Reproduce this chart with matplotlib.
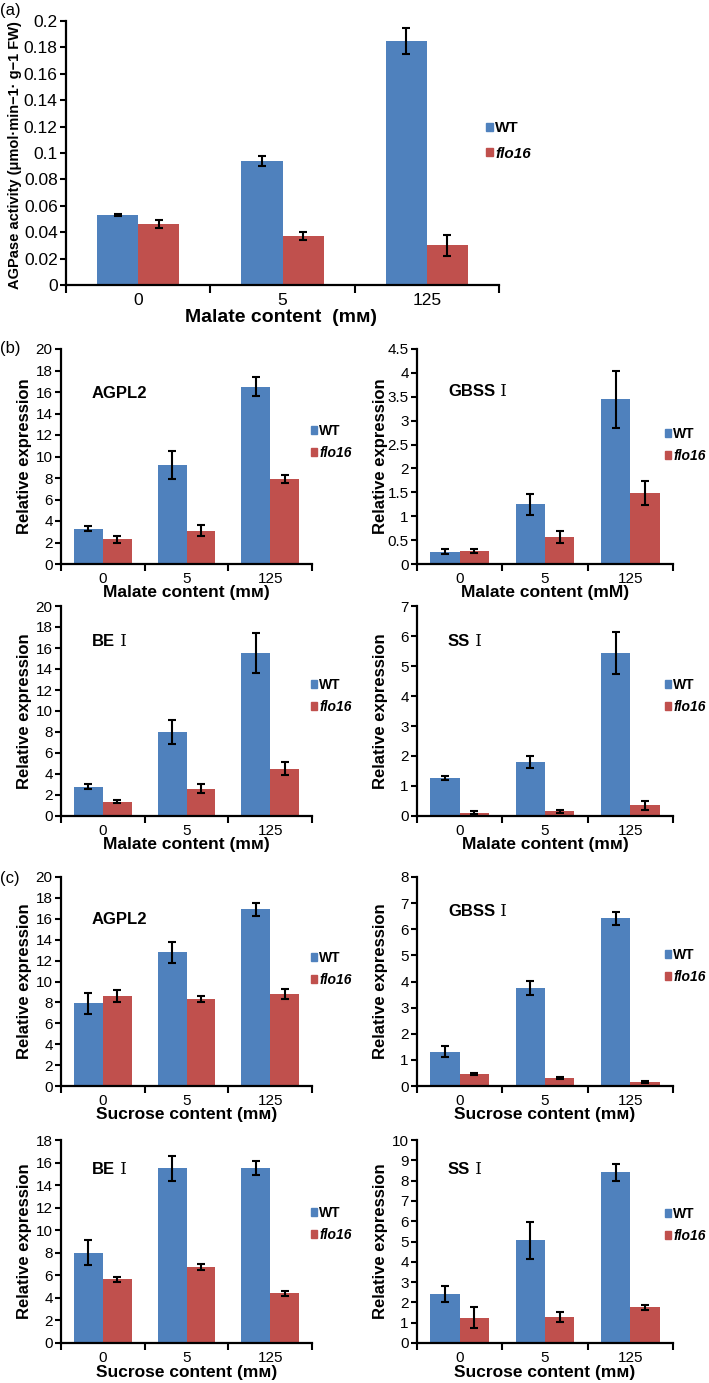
import matplotlib
matplotlib.use('Agg')
import matplotlib.pyplot as plt
from matplotlib.patches import Patch
from matplotlib import ticker
import numpy as np

plt.rcParams['font.family'] = ['Liberation Sans', 'DejaVu Sans']
NARROW = ['Liberation Sans Narrow', 'Liberation Sans', 'DejaVu Sans']

W, H = 709, 1383
BLUE = '#4F81BD'
RED = '#C0504D'

doses = ['0', '5', '125']
series = ['WT', 'flo16']

# (a) AGPase activity vs malate
agp_wt = [0.053, 0.094, 0.185]
agp_wt_err = [0.001, 0.004, 0.010]
agp_flo = [0.046, 0.037, 0.030]
agp_flo_err = [0.003, 0.003, 0.008]

# (b) relative expression vs malate
mal_agpl2_wt = [3.3, 9.2, 16.5]
mal_agpl2_wt_err = [0.2, 1.3, 0.9]
mal_agpl2_flo = [2.3, 3.1, 7.9]
mal_agpl2_flo_err = [0.3, 0.5, 0.4]

mal_gbss_wt = [0.26, 1.25, 3.45]
mal_gbss_wt_err = [0.05, 0.22, 0.6]
mal_gbss_flo = [0.28, 0.56, 1.48]
mal_gbss_flo_err = [0.04, 0.13, 0.25]

mal_be_wt = [2.8, 8.0, 15.5]
mal_be_wt_err = [0.2, 1.1, 1.9]
mal_be_flo = [1.35, 2.6, 4.5]
mal_be_flo_err = [0.15, 0.4, 0.6]

mal_ss_wt = [1.27, 1.8, 5.42]
mal_ss_wt_err = [0.07, 0.2, 0.7]
mal_ss_flo = [0.1, 0.15, 0.35]
mal_ss_flo_err = [0.05, 0.05, 0.15]

# (c) relative expression vs sucrose
suc_agpl2_wt = [7.9, 12.8, 16.9]
suc_agpl2_wt_err = [1.0, 1.0, 0.6]
suc_agpl2_flo = [8.6, 8.3, 8.8]
suc_agpl2_flo_err = [0.55, 0.3, 0.45]

suc_gbss_wt = [1.32, 3.75, 6.42]
suc_gbss_wt_err = [0.2, 0.28, 0.25]
suc_gbss_flo = [0.47, 0.32, 0.17]
suc_gbss_flo_err = [0.03, 0.04, 0.04]

suc_be_wt = [8.0, 15.5, 15.5]
suc_be_wt_err = [1.1, 1.1, 0.6]
suc_be_flo = [5.65, 6.75, 4.4]
suc_be_flo_err = [0.2, 0.25, 0.2]

suc_ss_wt = [2.4, 5.05, 8.4]
suc_ss_wt_err = [0.4, 0.9, 0.4]
suc_ss_flo = [1.25, 1.3, 1.75]
suc_ss_flo_err = [0.5, 0.25, 0.12]

fig = plt.figure(figsize=(W / 100, H / 100), dpi=100)


def px_axes(l, r, t, b):
    return fig.add_axes([l / W, 1 - b / H, (r - l) / W, (b - t) / H])


def fx(x):
    return x / W


def fy(y):
    return 1 - y / H


def bar_panel(ax, wt, wt_err, flo, flo_err, ymax, ystep, width, fs):
    x = np.arange(len(doses))
    ekw = dict(ecolor='black', elinewidth=1.5, capsize=3, capthick=1.5)
    ax.bar(x - width / 2, wt, width, color=BLUE, yerr=wt_err, error_kw=ekw)
    ax.bar(x + width / 2, flo, width, color=RED, yerr=flo_err, error_kw=ekw)
    ax.set_xlim(-0.5, 2.5)
    ax.set_ylim(0, ymax)
    ax.set_yticks(np.arange(0, ymax + ystep / 2, ystep))
    ax.yaxis.set_major_formatter(ticker.FuncFormatter(lambda v, p: '%g' % round(v, 4)))
    ax.set_xticks(x)
    ax.set_xticklabels(doses)
    ax.set_xticks([-0.5, 0.5, 1.5, 2.5], minor=True)
    ax.tick_params(axis='x', which='major', length=0, pad=6, labelsize=fs)
    ax.tick_params(axis='x', which='minor', length=5, width=1.5, direction='out')
    ax.tick_params(axis='y', length=4, width=1.5, direction='out', labelsize=fs, pad=2)
    for s in ['top', 'right']:
        ax.spines[s].set_visible(False)
    for s in ['left', 'bottom']:
        ax.spines[s].set_linewidth(1.6)
    ax.set_facecolor('none')


def add_legend(lx, ly, fs, spacing, family=None):
    handles = [Patch(color=BLUE), Patch(color=RED)]
    prop = dict(weight='bold', size=fs)
    if family:
        prop['family'] = family
    leg = fig.legend(handles, series, loc='center left',
                     bbox_to_anchor=(fx(lx), fy(ly)), frameon=False,
                     handlelength=0.45, handleheight=0.45, handletextpad=0.15,
                     labelspacing=spacing, borderpad=0, borderaxespad=0, prop=prop)
    leg.get_texts()[1].set_style('italic')


def gene_label(ax, gx, gy, name, roman):
    t = fig.text(fx(gx), fy(gy), name, fontsize=12, fontweight='bold',
                 ha='left', va='center')
    if roman:
        ax.annotate(' Ⅰ', xy=(1, 0.5), xycoords=t, ha='left', va='center',
                    fontsize=12, family=['DejaVu Serif', 'Noto Sans CJK SC'])


# panel (a)
ax_a = px_axes(66, 499, 21, 285)
bar_panel(ax_a, agp_wt, agp_wt_err, agp_flo, agp_flo_err, 0.2, 0.02, 0.285, 12.5)
ax_a.tick_params(axis='x', which='minor', length=6)
fig.text(fx(15), fy(155), 'AGPase activity (μmol·min−1· g−1 FW)', rotation=90,
         fontsize=10.5, fontweight='bold', ha='center', va='center')
fig.text(fx(281), fy(318), 'Malate content  (mм)', fontsize=14, fontweight='bold',
         family=NARROW, ha='center', va='center')
add_legend(486, 141, 11, 0.75, NARROW)
fig.text(fx(0), fy(10), '(a)', fontsize=12, ha='left', va='center')

# panels (b) and (c)
LEFT = (61, 312)
RIGHT = (417, 673)
rows = [(349, 564), (606, 816), (877, 1086), (1140, 1343)]

panels = [
    (LEFT, rows[0], mal_agpl2_wt, mal_agpl2_wt_err, mal_agpl2_flo, mal_agpl2_flo_err, 20, 2, 'AGPL2', False, 'Malate content (mм)', 393, 442),
    (RIGHT, rows[0], mal_gbss_wt, mal_gbss_wt_err, mal_gbss_flo, mal_gbss_flo_err, 4.5, 0.5, 'GBSS', True, 'Malate content (mM)', 392, 445),
    (LEFT, rows[1], mal_be_wt, mal_be_wt_err, mal_be_flo, mal_be_flo_err, 20, 2, 'BE', True, 'Malate content (mм)', 642, 696),
    (RIGHT, rows[1], mal_ss_wt, mal_ss_wt_err, mal_ss_flo, mal_ss_flo_err, 7, 1, 'SS', True, 'Malate content (mм)', 642, 696),
    (LEFT, rows[2], suc_agpl2_wt, suc_agpl2_wt_err, suc_agpl2_flo, suc_agpl2_flo_err, 20, 2, 'AGPL2', False, 'Sucrose content (mм)', 919, 969),
    (RIGHT, rows[2], suc_gbss_wt, suc_gbss_wt_err, suc_gbss_flo, suc_gbss_flo_err, 8, 1, 'GBSS', True, 'Sucrose content (mм)', 912, 966),
    (LEFT, rows[3], suc_be_wt, suc_be_wt_err, suc_be_flo, suc_be_flo_err, 18, 2, 'BE', True, 'Sucrose content (mм)', 1169, 1224),
    (RIGHT, rows[3], suc_ss_wt, suc_ss_wt_err, suc_ss_flo, suc_ss_flo_err, 10, 1, 'SS', True, 'Sucrose content (mм)', 1170, 1225),
]

for (l, r), (t, b), wt, wte, fl, fle, ymax, ystep, gene, roman, xlab, gy, ly in panels:
    ax = px_axes(l, r, t, b)
    bar_panel(ax, wt, wte, fl, fle, ymax, ystep, 0.345, 11)
    cx = l + (r - l) / 2
    fig.text(fx(cx), fy(b + 29), xlab, fontsize=12.5, fontweight='bold',
             ha='center', va='center')
    fig.text(fx(l - 37), fy((t + b) / 2), 'Relative expression', rotation=90,
             fontsize=12, fontweight='bold', ha='center', va='center')
    gene_label(ax, l + 31, gy, gene, roman)
    add_legend(r - 8 if l > 300 else r - 1, ly, 10, 0.6)

fig.text(fx(0), fy(348), '(b)', fontsize=12, ha='left', va='center')
fig.text(fx(0), fy(878), '(c)', fontsize=12, ha='left', va='center')

fig.savefig('out.png', dpi=100)
